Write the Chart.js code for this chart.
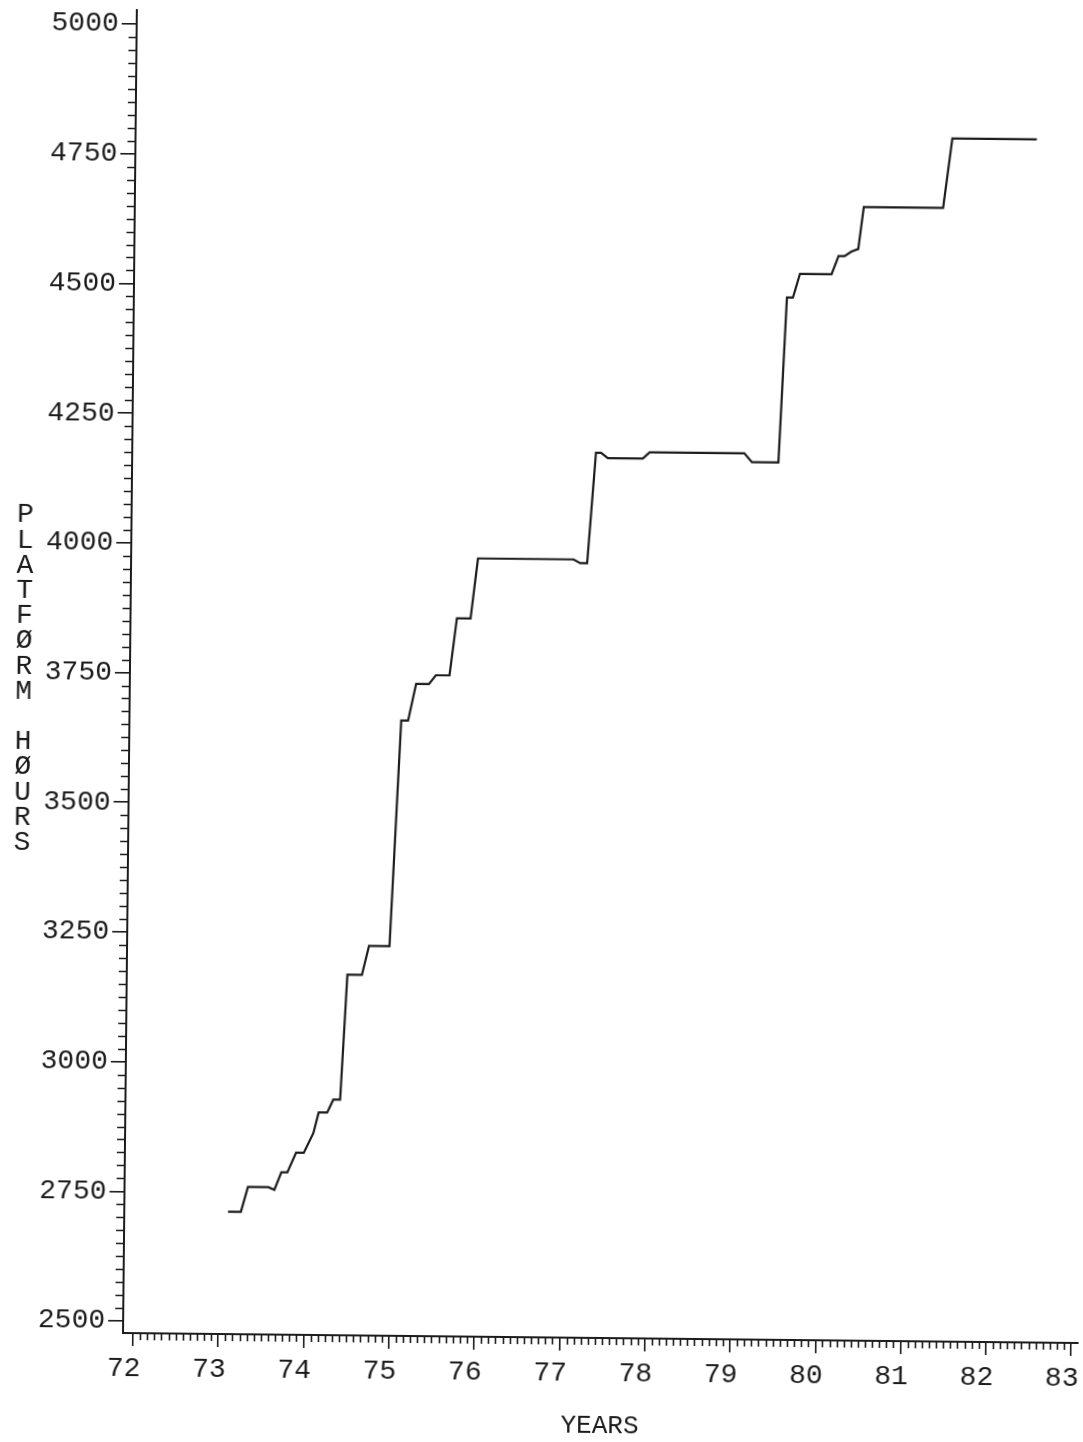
<!DOCTYPE html>
<html>
<head>
<meta charset="utf-8">
<title>Platform hours</title>
<script src="https://cdn.jsdelivr.net/npm/chart.js@4.4.0/dist/chart.umd.min.js"></script>
<style>
html,body{margin:0;padding:0;background:#fff;overflow:hidden}
/* the scanned plot is tilted a little clockwise round the axis corner */
#chart{display:block;transform-origin:123px 1333px;transform:rotate(0.6deg)}
</style>
</head>
<body>
<canvas id="chart" width="1083" height="1442"></canvas>
<script>
// Datos (anos 19xx, horas de plataforma acumuladas)
const years = [73.10,73.25,73.33,73.57,73.64,73.72,73.79,73.89,73.98,74.09,74.15,74.25,74.32,74.40,
  74.47,74.64,74.72,74.96,75.07,75.15,75.24,75.39,75.47,75.63,75.71,75.87,75.95,77.07,77.15,77.23,
  77.32,77.38,77.46,77.87,77.95,79.06,79.15,79.46,79.54,79.61,79.69,80.06,80.14,80.21,80.29,80.37,
  80.43,81.36,81.46,82.45];
const hours = [2713,2713,2761,2761,2756,2790,2790,2828,2828,2866,2906,2906,2931,2931,
  3172,3172,3228,3228,3663,3663,3734,3734,3751,3751,3861,3861,3977,3977,3970,3970,
  4183,4183,4173,4173,4185,4185,4168,4168,4486,4486,4532,4532,4567,4567,4576,4581,
  4662,4662,4796,4796];

const yearTicks = [72,73,74,75,76,77,78,79,80,81,82,83];
const hourTicks = [2500,2750,3000,3250,3500,3750,4000,4250,4500,4750,5000];
const yTitle = 'PLATFØRM HØURS';
const xTitle = 'YEARS';

const FONT = "'Liberation Mono','DejaVu Sans Mono',monospace";
const INK = '#1c1c1c';

// marcas menores: cada 25 horas y cada mes
const minorTicks = {
  id:'minorTicks',
  afterDraw(chart){
    const {ctx, chartArea:a, scales:{x,y}} = chart;
    ctx.save();
    ctx.strokeStyle = INK; ctx.lineWidth = 1.6;
    ctx.beginPath();
    for(let v=hourTicks[0]; v<=hourTicks[hourTicks.length-1]; v+=25){
      if(v%250===0) continue;
      const py = Math.round(y.getPixelForValue(v))+0.5;
      ctx.moveTo(a.left, py); ctx.lineTo(a.left-8, py);
    }
    for(let m=yearTicks[0]*12; m<=yearTicks[yearTicks.length-1]*12; m++){
      if(m%12===0) continue;
      const px = Math.round(x.getPixelForValue(m/12))+0.5;
      ctx.moveTo(px, a.bottom); ctx.lineTo(px, a.bottom+7);
    }
    ctx.stroke();
    ctx.restore();
  }
};

// titulo vertical con letras de pie, una debajo de otra
const stackedTitle = {
  id:'stackedTitle',
  afterDraw(chart){
    const ctx = chart.ctx;
    ctx.save();
    ctx.font = '28px ' + FONT;
    ctx.fillStyle = INK;
    ctx.textAlign = 'center'; ctx.textBaseline = 'middle';
    [...yTitle].forEach((ch,i)=> ctx.fillText(ch, 17, 516 + i*25.2));
    ctx.restore();
  }
};

new Chart(document.getElementById('chart'), {
  type:'line',
  data:{
    datasets:[{
      data: years.map((t,i)=>({x:t, y:hours[i]})),
      borderColor: INK, borderWidth: 2.2,
      pointRadius: 0, tension: 0, fill: false
    }]
  },
  options:{
    responsive:false, animation:false,
    layout:{padding:{top:10, right:5, left:0, bottom:0}},
    plugins:{legend:{display:false}, tooltip:{enabled:false}},
    scales:{
      x:{
        type:'linear', min:71.883, max:83.08,
        afterBuildTicks(s){ s.ticks = yearTicks.map(v=>({value:v})); },
        afterFit(s){ s.height = 109; s.paddingLeft = 0; s.paddingRight = 0; },
        ticks:{font:{family:FONT,size:28}, color:INK, padding:6, labelOffset:-9, maxRotation:0, autoSkip:false,
          callback:v=>String(v)},
        grid:{drawOnChartArea:false, drawTicks:true, tickLength:13, color:INK, lineWidth:1.6},
        border:{display:true, color:INK, width:2},
        title:{display:true, text:xTitle, color:INK, font:{family:FONT,size:26}, padding:{top:0,bottom:5}}
      },
      y:{
        type:'linear', min:2477, max:5027,
        afterBuildTicks(s){ s.ticks = hourTicks.map(v=>({value:v})); },
        afterFit(s){ s.width = 123; s.paddingTop = 0; s.paddingBottom = 0; },
        ticks:{font:{family:FONT,size:28}, color:INK, padding:3, autoSkip:false,
          callback:v=>String(v)},
        grid:{drawOnChartArea:false, drawTicks:true, tickLength:15, color:INK, lineWidth:1.6},
        border:{display:true, color:INK, width:2}
      }
    }
  },
  plugins:[minorTicks, stackedTitle]
});
</script>
</body>
</html>
